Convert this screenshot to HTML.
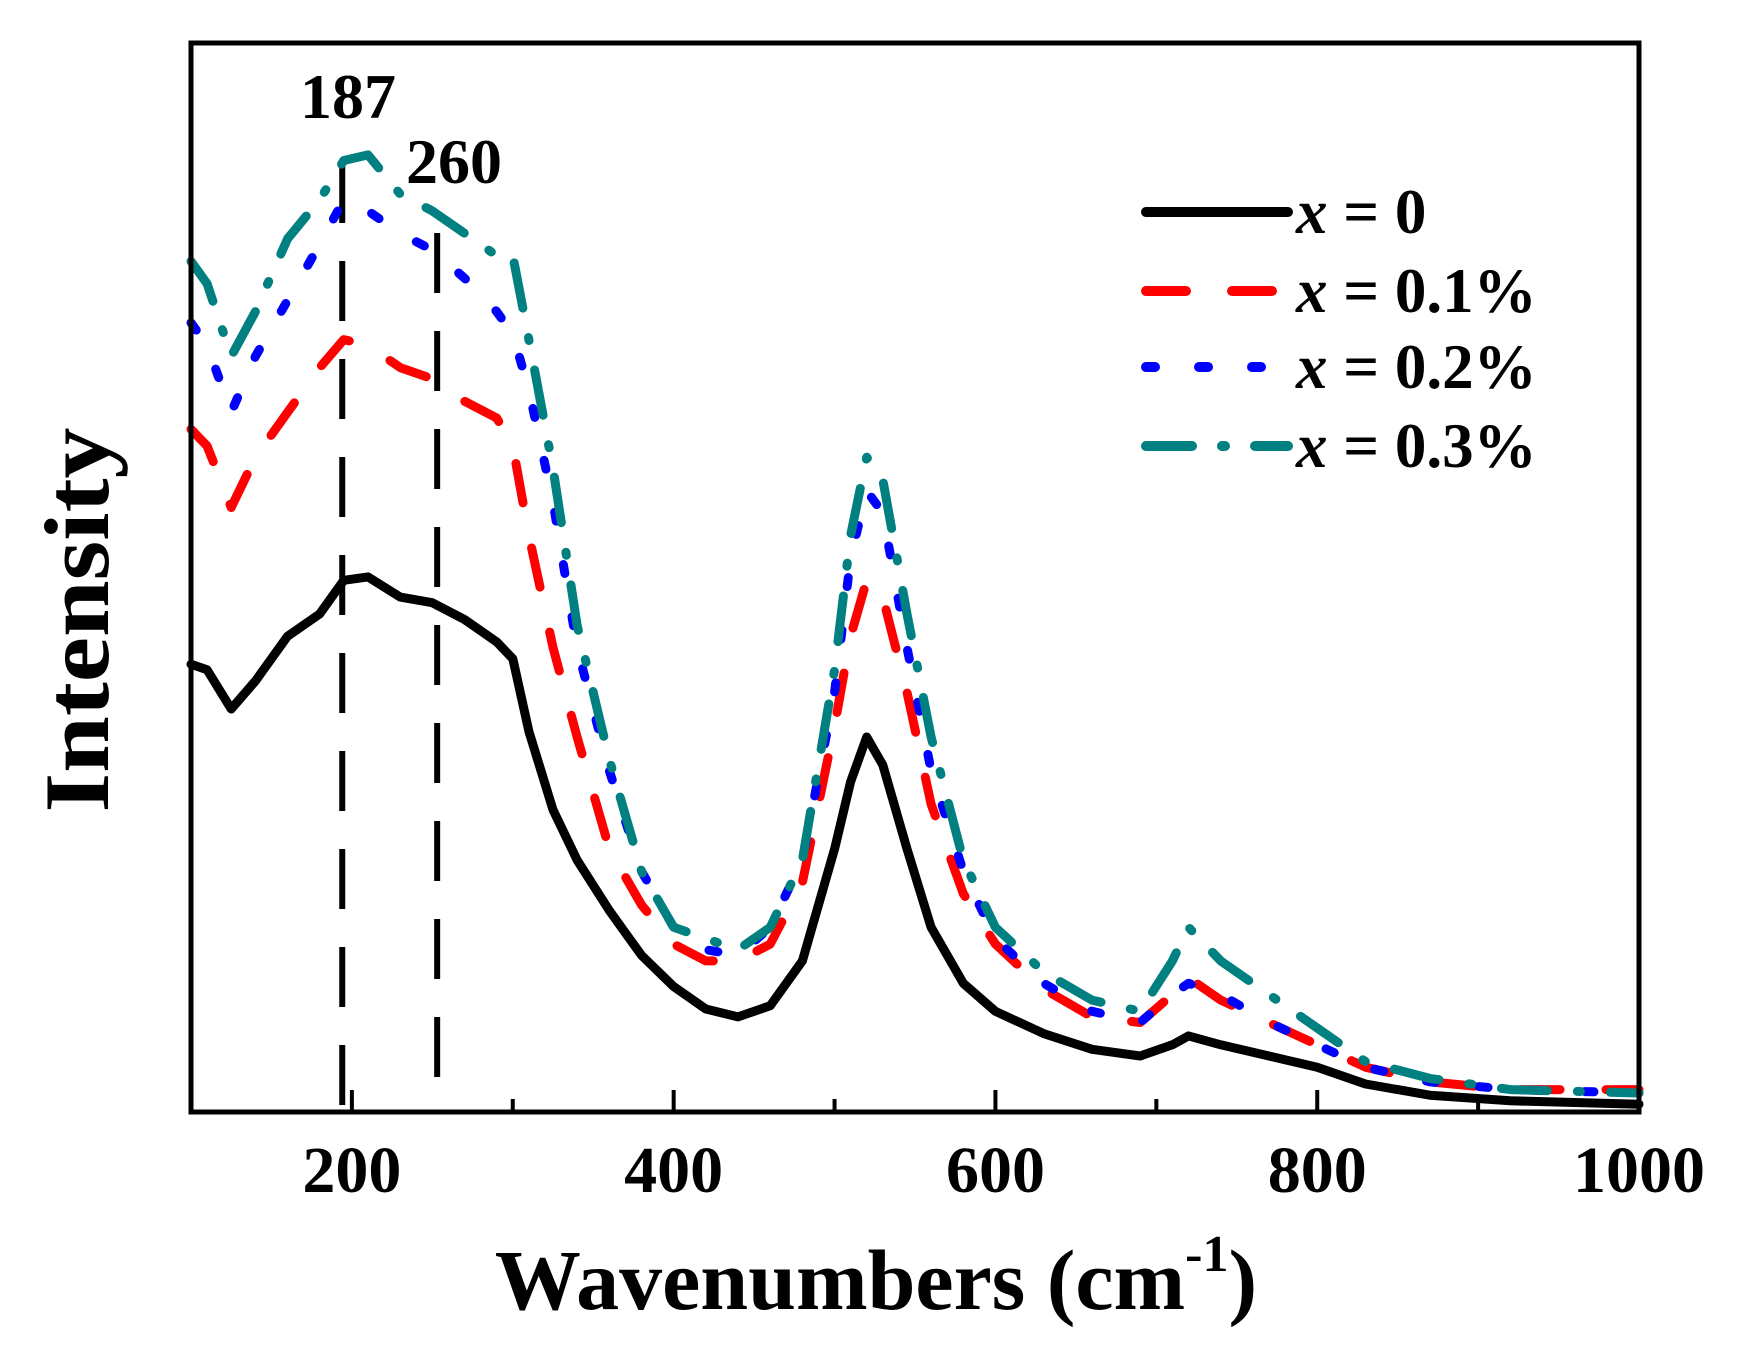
<!DOCTYPE html>
<html><head><meta charset="utf-8"><style>
html,body{margin:0;padding:0;background:#fff;}
svg{display:block;}
text{font-family:"Liberation Serif",serif;font-weight:bold;fill:#000;}
</style></head><body>
<svg id="chart" width="1748" height="1364" viewBox="0 0 1748 1364">
<g id="series"></g>
<g id="axes"></g>
<g id="legend"></g>
<text x="348" y="118" font-size="64" text-anchor="middle">187</text>
<text x="454" y="183" font-size="64" text-anchor="middle">260</text>
<text x="876" y="1309" font-size="86" text-anchor="middle">Wavenumbers (cm<tspan font-size="52" dy="-38">-1</tspan><tspan dy="38">)</tspan></text>
<text transform="translate(108,620) rotate(-90)" font-size="92" text-anchor="middle" textLength="385" lengthAdjust="spacingAndGlyphs">Intensity</text>
</svg>
<script>
const xTicks = [200, 400, 600, 800, 1000];
const xMinor = [300, 500, 700, 900];
const markers = [194, 253];
const wavenumbers = [100,110,125,140,160,180,195,210,230,250,270,290,300,310,325,340,360,380,400,420,440,460,480,500,510,520,530,545,560,580,600,630,660,690,710,720,740,770,800,830,870,920,1000];
const s0 = [400,395,360,385,425,445,475,478,460,455,440,420,405,340,270,225,180,140,112,92,85,95,135,235,295,335,310,235,165,115,90,70,56,50,60,68,60,50,40,25,15,10,7];
const s1 = [610,595,540,585,625,665,690,685,665,655,635,620,595,515,415,335,235,185,150,135,135,150,205,345,425,475,460,375,275,195,150,110,85,80,105,120,100,80,60,40,27,20,20];
const s2 = [705,685,625,675,725,775,815,805,785,770,745,715,695,645,545,415,305,215,165,145,140,165,225,375,495,555,535,415,305,215,155,115,90,80,105,115,105,80,60,40,27,20,17];
const s3 = [760,740,675,715,780,815,850,855,820,805,785,765,765,690,575,435,315,215,165,155,145,165,225,395,515,585,565,445,335,225,165,125,100,90,135,165,135,105,75,45,30,20,17];
const seriesList = [
 {name:'x = 0', vals:s0, color:'#000000', dash:null},
 {name:'x = 0.1%', vals:s1, color:'#ff0000', dash:'40 46'},
 {name:'x = 0.2%', vals:s2, color:'#0000ff', dash:'9 44'},
 {name:'x = 0.3%', vals:s3, color:'#008080', dash:'46 30 3 30'}
];
const L=191,R=1639,T=43,B=1112;
const xs = v => L + (v-100)/900*(R-L);
const ys = v => B - v/955*(B-T);
const NS='http://www.w3.org/2000/svg';
function mk(tag, attrs, parent){const e=document.createElementNS(NS,tag);for(const k in attrs)e.setAttribute(k,attrs[k]);parent.appendChild(e);return e;}
const sg=document.getElementById('series');
markers.forEach((m,i)=>{
 const ln=mk('line',{x1:xs(m),x2:xs(m),y1:i===0?163:233,y2:B,stroke:'#000','stroke-width':6,'stroke-dasharray':'60 38'},sg);
 
 
});
seriesList.forEach((s,i)=>{
 const d=s.vals.map((v,j)=>(j?'L':'M')+xs(wavenumbers[j]).toFixed(1)+','+ys(v).toFixed(1)).join(' ');
 const p=mk('path',{d:d,fill:'none',stroke:s.color,'stroke-width':9,'stroke-linecap':'round','stroke-linejoin':'round'},sg);
 if(s.dash)p.setAttribute('stroke-dasharray',s.dash);
 
 
});
const ag=document.getElementById('axes');
const fr=mk('rect',{x:L,y:T,width:R-L,height:B-T,fill:'none',stroke:'#000','stroke-width':5},ag);


xTicks.forEach(t=>{
 const tk=mk('line',{x1:xs(t),x2:xs(t),y1:B,y2:B-22,stroke:'#000','stroke-width':4},ag);
 
 
 const tl=mk('text',{x:xs(t),y:1192,'font-size':66,'text-anchor':'middle'},ag);
 tl.textContent=t;
 
 
});
xMinor.forEach(t=>{
 const tk=mk('line',{x1:xs(t),x2:xs(t),y1:B,y2:B-13,stroke:'#000','stroke-width':4},ag);
 
 
});
const lg=document.getElementById('legend');
const rows=[212,291,367,446];
seriesList.forEach((s,i)=>{
 const ln=mk('line',{x1:1146,x2:1288,y1:rows[i],y2:rows[i],stroke:s.color,'stroke-width':10,'stroke-linecap':'round'},lg);
 if(s.dash)ln.setAttribute('stroke-dasharray',s.dash);
 
 
 const tx=mk('text',{x:1296,y:rows[i]+21,'font-size':63},lg);
 tx.innerHTML='<tspan font-style="italic">x</tspan>'+s.name.slice(1);
 
 
});
</script>
</body></html>
